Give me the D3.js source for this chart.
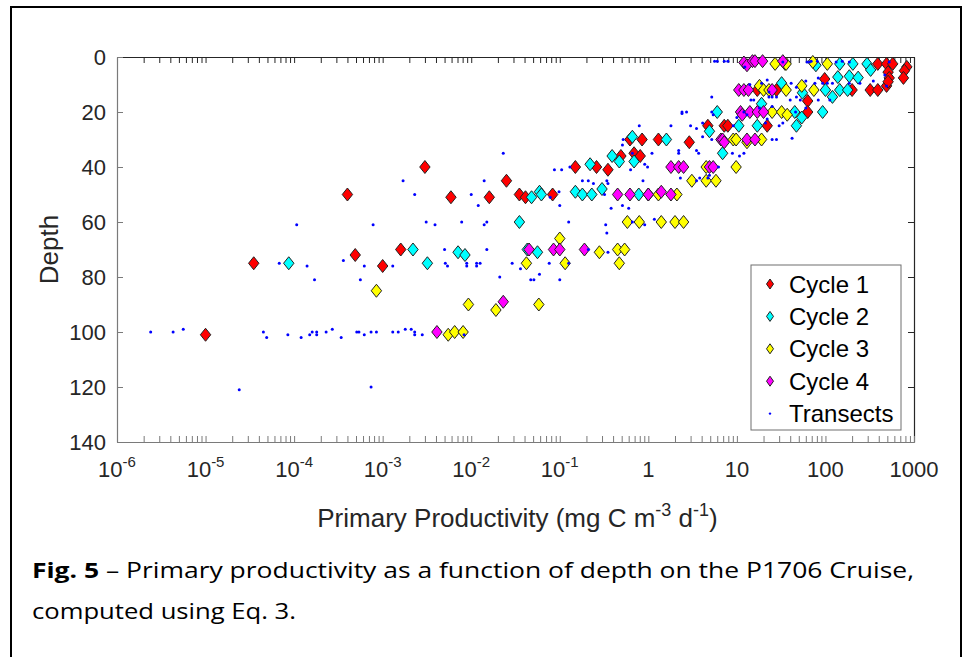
<!DOCTYPE html>
<html>
<head>
<meta charset="utf-8">
<script src="https://cdn.jsdelivr.net/npm/d3@7"></script>
<style>
  body { margin: 0; background: #fff; }
  text { font-family: "Liberation Sans", Arial, sans-serif; }
</style>
</head>
<body>
<svg id="fig" width="972" height="657"></svg>
<script>
// Points are [primary productivity (mg C m-3 d-1), depth (m)].
var cycle1 = [
  [1.0e-5, 101], [3.5e-5, 75], [4.0e-4, 50], [4.9e-4, 72], [1.6e-3, 70], [1.0e-3, 76],
  [3.0e-3, 40], [5.9e-3, 51], [1.6e-2, 51], [2.5e-2, 45], [3.5e-2, 50], [4.1e-2, 51],
  [8.3e-2, 50], [0.15, 40], [0.26, 40], [0.35, 41], [0.49, 36], [0.62, 30], [0.85, 30],
  [0.69, 35], [0.81, 36], [1.3, 30], [2.9, 31], [4.7, 25], [7.2, 25], [7.9, 25],
  [22, 25], [17, 12], [28, 12], [63, 16], [63, 20], [98, 8], [200, 12], [320, 12],
  [390, 12], [490, 10.5], [390, 2.5], [490, 2.5], [575, 2.5], [830, 3.6], [780, 5],
  [510, 5.5], [525, 7.6], [760, 7.6], [510, 9]
]
var cycle2 = [
  [8.7e-5, 75], [2.2e-3, 70], [3.2e-3, 75], [7.1e-3, 71], [8.5e-3, 72], [3.5e-2, 60],
  [4.3e-2, 70], [5.6e-2, 71], [4.8e-2, 51], [5.9e-2, 49], [6.2e-2, 50], [0.15, 49],
  [0.18, 50], [0.23, 50], [0.30, 48], [0.22, 39], [0.39, 36], [0.47, 38], [0.66, 29],
  [0.69, 38], [0.78, 50], [1.0, 50], [1.6, 30], [4.9, 27], [6.0, 20], [6.9, 35],
  [10.5, 25], [17, 25], [19, 17], [32, 9.5], [45, 20], [47, 25], [54, 22], [55, 13],
  [78, 3], [93, 20], [100, 12], [120, 14.5], [138, 7.3], [145, 2.5], [145, 12],
  [178, 12], [186, 7], [204, 2.5], [234, 7.5], [295, 2.5], [324, 4.7]
]
var cycle3 = [
  [8.5e-4, 85], [5.5e-3, 101], [6.5e-3, 100], [8.1e-3, 100], [9.3e-3, 90], [1.9e-2, 92],
  [5.8e-2, 90], [4.2e-2, 75], [0.10, 66], [0.115, 75], [0.28, 71], [0.45, 70],
  [0.54, 70], [0.47, 75], [0.58, 60], [0.79, 60], [1.4, 60], [2.0, 60], [2.5, 60],
  [1.3, 50], [2.1, 50], [3.1, 45], [4.5, 45], [5.8, 45], [4.5, 40], [9.8, 40],
  [9.1, 30], [9.8, 30], [13, 31], [19, 30], [18, 10.5], [20, 12], [23, 12], [27, 2.5],
  [35, 2.5], [36, 2.5], [36, 12], [25, 20], [32, 20], [37, 21], [54, 10.5], [74, 12],
  [72, 1.8], [105, 2.5]
]
var cycle4 = [
  [4.1e-3, 100], [2.3e-2, 89], [4.5e-2, 70], [8.5e-2, 70], [0.10, 70], [0.19, 70],
  [0.45, 50], [0.62, 50], [1.0, 50], [1.4, 49], [1.8, 50], [1.8, 40], [2.2, 40],
  [2.5, 40], [4.9, 40], [5.4, 40], [6.6, 30], [6.9, 30], [7.2, 31], [13, 30], [16, 30],
  [11, 20], [11.5, 21], [14, 20], [17, 20], [20, 20], [10.5, 12], [12, 12], [13.5, 12],
  [25, 12], [12, 2], [13, 3], [15, 1.5], [16, 1.5], [19.5, 1.5], [33, 1.5]
]
var transects = [
  [2.4e-6, 100], [4.3e-6, 100], [5.6e-6, 99], [2.4e-5, 121], [4.5e-5, 100], [4.9e-5, 102],
  [6.8e-5, 75], [8.5e-5, 101], [1.07e-4, 61], [1.2e-4, 102], [1.4e-4, 76], [1.5e-4, 101],
  [1.6e-4, 100], [1.7e-4, 81], [1.8e-4, 100], [1.8e-4, 101], [2.3e-4, 100], [2.7e-4, 99],
  [3.4e-4, 102], [3.6e-4, 74], [5.1e-4, 100], [5.4e-4, 100], [5.6e-4, 81], [6.2e-4, 101],
  [6.2e-4, 76], [7.4e-4, 100], [7.4e-4, 120], [7.8e-4, 61], [8.5e-4, 100], [1.3e-3, 76],
  [1.3e-3, 100], [1.5e-3, 100], [1.8e-3, 99], [2.1e-3, 99], [2.3e-3, 101], [2.3e-3, 100],
  [2.8e-3, 101], [1.7e-3, 45], [2.3e-3, 50], [3.1e-3, 60], [3.9e-3, 61], [5.0e-3, 70],
  [5.1e-3, 75], [5.4e-3, 76], [7.8e-3, 60], [8.3e-3, 101], [8.9e-3, 75], [8.9e-3, 76],
  [1.0e-2, 50], [1.15e-2, 75], [1.15e-2, 76], [1.2e-2, 54], [1.26e-2, 75], [1.4e-2, 45],
  [1.4e-2, 61], [1.5e-2, 60], [1.5e-2, 70], [2.1e-2, 80], [2.3e-2, 35], [2.9e-2, 75],
  [3.6e-2, 77], [4.7e-2, 81], [5.1e-2, 81], [5.9e-2, 79], [7.6e-2, 75], [7.8e-2, 51],
  [8.7e-2, 41], [9.8e-2, 49], [0.10, 54], [0.10, 81], [0.105, 41], [0.126, 60],
  [0.126, 75], [0.13, 40], [0.18, 45], [0.21, 45], [0.21, 70], [0.24, 46], [0.32, 50],
  [0.33, 61], [0.34, 45], [0.34, 64], [0.35, 46], [0.35, 71], [0.38, 55], [0.51, 54],
  [0.51, 32], [0.52, 30], [0.60, 55], [0.63, 41], [0.66, 35], [0.66, 60], [0.79, 25],
  [0.87, 45], [0.91, 39], [0.91, 61], [0.98, 40], [1.1, 35], [1.17, 59], [1.8, 25],
  [2.2, 34], [2.2, 35], [2.3, 44], [2.4, 20], [2.4, 20.5], [2.7, 20], [3.0, 25],
  [3.5, 26], [3.5, 45], [3.5, 34], [3.7, 35], [3.8, 44], [4.1, 24], [4.1, 29], [4.7, 44],
  [4.9, 43], [5.2, 14.5], [5.2, 20], [5.2, 30], [5.4, 21], [5.6, 1.5], [6.0, 1.5],
  [6.2, 40], [7.2, 1.5], [7.9, 1.5], [8.9, 35], [9.1, 25], [10, 22], [10.7, 36], [12, 20],
  [12, 35], [12.3, 3.6], [13, 21], [14, 10], [14.4, 15.6], [15.5, 15.6], [18, 18.5],
  [19, 9.5], [21, 24], [22, 8.4], [22, 22.5], [23, 12.7], [23, 14.5], [25, 14.5], [25, 18],
  [25, 30], [28, 30], [28, 14.5], [30, 25], [33, 1.8], [33, 24], [40, 15.6], [41, 9.5],
  [42, 29.5], [46, 20], [47, 14.5], [47, 11], [52, 15.6], [60, 8.7], [60, 18.5], [62, 1.8],
  [66, 1.8], [69, 1.5], [76, 9.5], [81, 1.5], [83, 7.6], [83, 15.6], [93, 9.5], [105, 9.5],
  [112, 15.6], [120, 9.5], [132, 1.8], [155, 1.5], [186, 1.8], [186, 9.5], [245, 9.5],
  [347, 8.7], [468, 6.5], [490, 10.5], [525, 1.8]
]

var seriesNames = ["Cycle 1", "Cycle 2", "Cycle 3", "Cycle 4", "Transects"]
var seriesColors = ["#ff0000", "#00ffff", "#ffff00", "#ff00ff", "#0000ff"]

var yTicks = [0, 20, 40, 60, 80, 100, 120, 140]
var xDecades = [1e-6, 1e-5, 1e-4, 1e-3, 1e-2, 1e-1, 1, 10, 100, 1000]
var xLabelBase = ["10", "10", "10", "10", "10", "10", "1", "10", "100", "1000"]
var xLabelExp = ["-6", "-5", "-4", "-3", "-2", "-1", "", "", "", ""]

var captionBold = "Fig. 5"
var captionLine1 = " \u2013 Primary productivity as a function of depth on the P1706 Cruise,"
var captionLine2 = "computed using Eq. 3."

// layout
var plot = { left: 117, right: 914, top: 57, bottom: 442 }
var axisDark = "#262626", axisGray = "#7a7a7a"

var svg = d3.select("#fig")
svg.append("rect").attr("width", 972).attr("height", 657).attr("fill", "#fff")

// outer frame of the figure
svg.append("rect")
  .attr("x", 11).attr("y", 7).attr("width", 950).attr("height", 700)
  .attr("fill", "none").attr("stroke", "#000").attr("stroke-width", 2)

var x = d3.scaleLog().domain([1e-6, 1e3]).range([plot.left, plot.right])
var y = d3.scaleLinear().domain([0, 140]).range([plot.top, plot.bottom])

// all log ticks 1..9 per decade
var logTicks = []
xDecades.forEach(function(d, i) {
  if (i == xDecades.length - 1) { logTicks.push(d); return }
  for (var k = 1; k < 10; k++) logTicks.push(k * d)
})

function styleAxis(g, color) {
  g.select(".domain").attr("stroke", color).attr("stroke-width", 1.2)
  g.selectAll(".tick line").attr("stroke", color).attr("stroke-width", 1)
}

// box axes (ticks point inward, like matlab)
svg.append("g")
  .attr("transform", "translate(0," + plot.top + ")")
  .call(d3.axisTop(x).tickValues(logTicks).tickSizeInner(-6).tickSizeOuter(0).tickFormat(""))
  .call(styleAxis, axisDark)

svg.append("g")
  .attr("transform", "translate(" + plot.right + ",0)")
  .call(d3.axisRight(y).tickValues(yTicks).tickSizeInner(-6).tickSizeOuter(0).tickFormat(""))
  .call(styleAxis, axisDark)

svg.append("g")
  .attr("transform", "translate(0," + plot.bottom + ")")
  .call(d3.axisBottom(x).tickValues(logTicks).tickSizeInner(-6).tickSizeOuter(0).tickFormat(""))
  .call(styleAxis, axisGray)

var yAxis = svg.append("g")
  .attr("transform", "translate(" + plot.left + ",0)")
  .call(d3.axisLeft(y).tickValues(yTicks).tickSizeInner(-6).tickSizeOuter(0).tickPadding(11))
  .call(styleAxis, axisGray)
yAxis.selectAll(".tick text")
  .attr("font-size", 22).attr("fill", axisDark)
  .style("font-family", "'Liberation Sans', Arial, sans-serif")

// x tick labels with superscripts
var xLab = svg.append("g").attr("fill", axisDark)
xDecades.forEach(function(d, i) {
  var t = xLab.append("text")
    .attr("x", x(d)).attr("y", 477)
    .attr("text-anchor", "middle").attr("font-size", 22)
  t.append("tspan").text(xLabelBase[i])
  if (xLabelExp[i]) {
    t.append("tspan").attr("font-size", 15).attr("dy", -10).text(xLabelExp[i])
  }
})

// axis titles
var xt = svg.append("text")
  .attr("x", (plot.left + plot.right) / 2 + 2).attr("y", 527)
  .attr("text-anchor", "middle").attr("font-size", 26).attr("fill", axisDark)
xt.append("tspan").text("Primary Productivity (mg C m")
xt.append("tspan").attr("font-size", 18).attr("dy", -11).text("-3")
xt.append("tspan").attr("dy", 11).text(" d")
xt.append("tspan").attr("font-size", 18).attr("dy", -11).text("-1")
xt.append("tspan").attr("dy", 11).text(")")

svg.append("text")
  .attr("transform", "translate(58," + (plot.top + plot.bottom) / 2 + ") rotate(-90)")
  .attr("text-anchor", "middle").attr("font-size", 26).attr("fill", axisDark)
  .text("Depth")

// markers
var diamond = "M0,-6.5L5.2,0L0,6.5L-5.2,0Z"
var marks = svg.append("g")
;[cycle1, cycle2, cycle3, cycle4].forEach(function(series, i) {
  marks.append("g")
    .selectAll("path")
    .data(series)
    .enter()
    .append("path")
    .attr("d", diamond)
    .attr("transform", function(d) { return "translate(" + x(d[0]) + "," + y(d[1]) + ")" })
    .attr("fill", seriesColors[i])
    .attr("stroke", "#222")
    .attr("stroke-width", 1)
})

marks.append("g")
  .selectAll("circle")
  .data(transects)
  .enter()
  .append("circle")
  .attr("cx", function(d) { return x(d[0]) })
  .attr("cy", function(d) { return y(d[1]) })
  .attr("r", 1.5)
  .attr("fill", seriesColors[4])

// legend
var legend = svg.append("g")
legend.append("rect")
  .attr("x", 751).attr("y", 265).attr("width", 150).attr("height", 165)
  .attr("fill", "#fff").attr("stroke", "#6e6e6e").attr("stroke-width", 1)
seriesNames.forEach(function(name, i) {
  var cy = 284 + i * 32.4
  if (i < 4) {
    legend.append("path")
      .attr("d", "M0,-5L3.5,0L0,5L-3.5,0Z")
      .attr("transform", "translate(770," + cy + ")")
      .attr("fill", seriesColors[i]).attr("stroke", "#222").attr("stroke-width", 1)
  } else {
    legend.append("circle").attr("cx", 770).attr("cy", cy).attr("r", 1.2).attr("fill", seriesColors[i])
  }
  legend.append("text")
    .attr("x", 789).attr("y", cy + 8.5)
    .attr("font-size", 24).attr("fill", "#000")
    .text(name)
})

// caption
var cap = svg.append("g")
var c1 = cap.append("text")
  .attr("x", 32).attr("y", 578).attr("font-size", 22).attr("fill", "#000")
  .style("font-family", "'Open Sans', 'Noto Sans', sans-serif")
  .attr("textLength", 882).attr("lengthAdjust", "spacingAndGlyphs")
c1.append("tspan").attr("font-weight", "bold").text(captionBold)
c1.append("tspan").text(captionLine1)
cap.append("text")
  .attr("x", 32).attr("y", 619).attr("font-size", 22).attr("fill", "#000")
  .style("font-family", "'Open Sans', 'Noto Sans', sans-serif")
  .attr("textLength", 264).attr("lengthAdjust", "spacingAndGlyphs")
  .text(captionLine2)
</script>
</body>
</html>
